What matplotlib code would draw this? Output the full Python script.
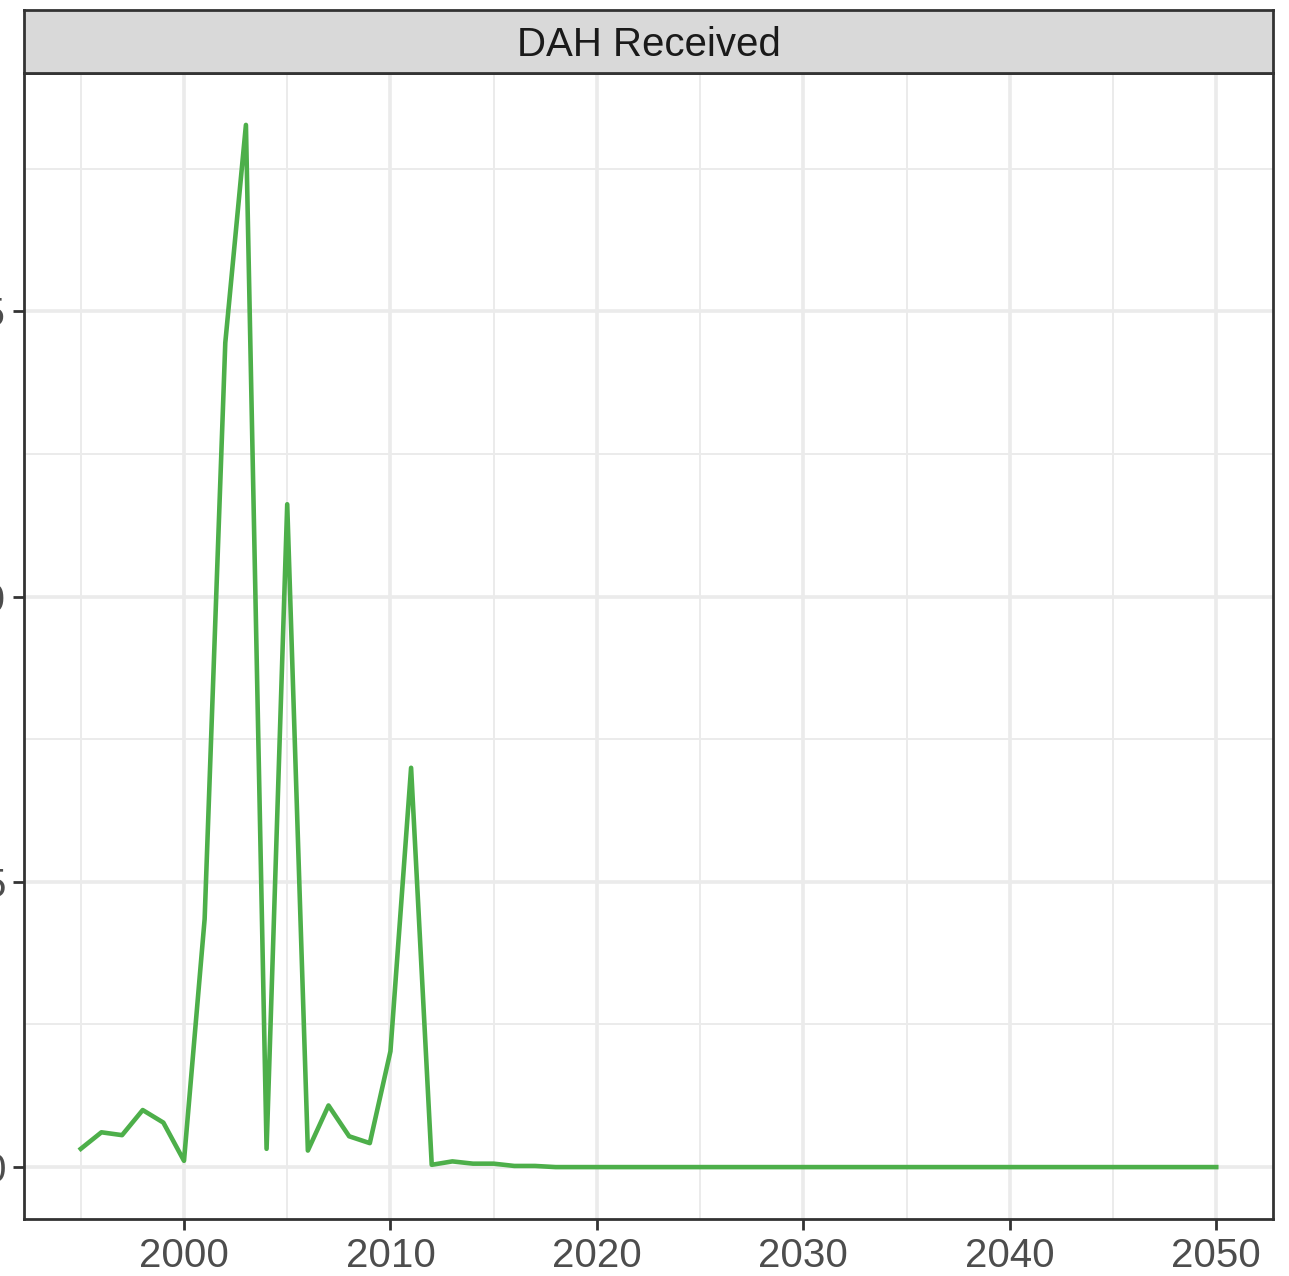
import matplotlib
matplotlib.use("Agg")
import matplotlib.pyplot as plt

# DAH received by year
years = list(range(1995, 2051))
dah_early = [0.32, 0.61, 0.56, 1.00, 0.78, 0.11, 4.35, 14.45, 18.27, 0.32,
             11.62, 0.29, 1.08, 0.54, 0.42, 2.03, 7.00, 0.04, 0.10, 0.06,
             0.06, 0.02, 0.02]
dah = dah_early + [0.0] * (len(years) - len(dah_early))

x_ticks = [2000, 2010, 2020, 2030, 2040, 2050]
x_minor = [1995, 2005, 2015, 2025, 2035, 2045]
y_ticks = [0, 5, 10, 15]
y_minor = [2.5, 7.5, 12.5, 17.5]

W, H = 1289, 1276
fig = plt.figure(figsize=(W / 100, H / 100), dpi=100)
plt.rcParams['font.family'] = ['Liberation Sans', 'DejaVu Sans']

left, right, bottom, top = 24, 1273, 1219, 73
ax = fig.add_axes([left / W, (H - bottom) / H, (right - left) / W, (bottom - top) / H])

grid_col = "#EBEBEB"
for v in x_minor:
    ax.axvline(v, color=grid_col, lw=1.4, zorder=0)
for v in y_minor:
    ax.axhline(v, color=grid_col, lw=1.4, zorder=0)
for v in x_ticks:
    ax.axvline(v, color=grid_col, lw=2.6, zorder=0)
for v in y_ticks:
    ax.axhline(v, color=grid_col, lw=2.6, zorder=0)

ax.plot(years, dah, color="#4DAF4A", lw=3.3, zorder=3)

ax.set_xlim(1992.25, 2052.75)
ax.set_ylim(-0.91, 19.18)
ax.set_xticks(x_ticks)
ax.set_yticks(y_ticks)
ax.set_yticklabels([str(v) for v in y_ticks])
ax.tick_params(axis="both", length=8, width=2, color="#333333",
               labelsize=29, labelcolor="#4D4D4D", pad=5)
for s in ax.spines.values():
    s.set_color("#333333")
    s.set_linewidth(2)

strip = fig.add_axes([left / W, (H - top) / H, (right - left) / W, (top - 10) / H])
strip.set_facecolor("#D9D9D9")
strip.set_xticks([])
strip.set_yticks([])
for s in strip.spines.values():
    s.set_color("#333333")
    s.set_linewidth(2)
strip.text(0.5, 0.45, "DAH Received", ha="center", va="center",
           fontsize=29, color="#1A1A1A", transform=strip.transAxes)

fig.savefig("out.png", dpi=100)
